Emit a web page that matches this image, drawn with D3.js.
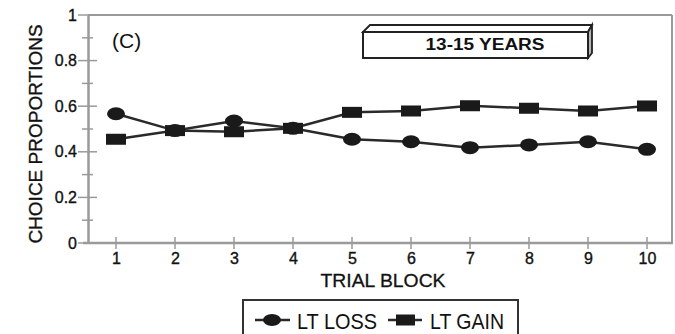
<!DOCTYPE html>
<html><head><meta charset="utf-8">
<script src="https://cdn.jsdelivr.net/npm/d3@7"></script>
<style>
html,body{margin:0;padding:0;background:#fff;}
svg{display:block;}
text{font-family:"Liberation Sans",Arial,sans-serif;fill:#111;}
</style></head>
<body>
<svg id="chart" width="675" height="334"></svg>
<script>
const trialBlocks = [1,2,3,4,5,6,7,8,9,10];
const ltLoss = [0.567,0.493,0.535,0.503,0.455,0.444,0.418,0.430,0.444,0.411];
const ltGain = [0.455,0.493,0.488,0.503,0.573,0.579,0.602,0.591,0.579,0.601];
const yMajorTicks = [0,0.2,0.4,0.6,0.8,1];
const yTickLabels = ["0","0.2","0.4","0.6","0.8","1"];
const yMinorTicks = [0.1,0.3,0.5,0.7,0.9];
const seriesNames = ["LT LOSS","LT GAIN"];
const panelLabel = "(C)";
const groupLabel = "13-15 YEARS";
const xTitle = "TRIAL BLOCK";
const yTitle = "CHOICE PROPORTIONS";

const svg = d3.select("#chart");
const x = d3.scaleLinear().domain([1,10]).range([116,647]);
const y = d3.scaleLinear().domain([0,1]).range([243,15]);
const axisCol = "#9a9a9a";
const left = 88, right = 672;

// frame top & right
svg.append("line").attr("x1",left).attr("x2",right).attr("y1",y(1)).attr("y2",y(1))
  .attr("stroke",axisCol).attr("stroke-width",2);
svg.append("line").attr("x1",right).attr("x2",right).attr("y1",y(1)).attr("y2",y(0))
  .attr("stroke",axisCol).attr("stroke-width",2);

// y axis
const yAxis = d3.axisLeft(y).tickValues(yMajorTicks)
  .tickFormat((d,i)=>yTickLabels[i]).tickSize(0).tickPadding(11);
const gy = svg.append("g").attr("transform",`translate(${left},0)`).call(yAxis);
gy.select(".domain").attr("stroke",axisCol).attr("stroke-width",2.5);
gy.selectAll("text").style("font-size","16px").attr("fill","#111")
  .attr("stroke","#111").attr("stroke-width",0.35);
svg.selectAll(".ymaj").data(yMajorTicks).enter().append("line")
  .attr("x1",78).attr("x2",97).attr("y1",d=>y(d)).attr("y2",d=>y(d))
  .attr("stroke",axisCol).attr("stroke-width",1.5);
svg.selectAll(".ymin").data(yMinorTicks).enter().append("line")
  .attr("x1",82).attr("x2",93).attr("y1",d=>y(d)).attr("y2",d=>y(d))
  .attr("stroke",axisCol).attr("stroke-width",1.5);

// x axis
const xAxis = d3.axisBottom(x).tickValues(trialBlocks).tickFormat(d3.format("d"))
  .tickSize(0).tickPadding(10);
const gx = svg.append("g").attr("transform",`translate(0,${y(0)})`).call(xAxis);
gx.select(".domain").remove();
svg.append("line").attr("x1",83).attr("x2",right+1).attr("y1",y(0)).attr("y2",y(0))
  .attr("stroke",axisCol).attr("stroke-width",2.5);
gx.selectAll("text").style("font-size","16px").attr("fill","#111")
  .attr("stroke","#111").attr("stroke-width",0.35);
svg.selectAll(".xt").data(trialBlocks).enter().append("line")
  .attr("x1",d=>x(d)).attr("x2",d=>x(d)).attr("y1",y(0)-6).attr("y2",y(0)+6)
  .attr("stroke",axisCol).attr("stroke-width",1.5);

// titles
svg.append("text").attr("transform","translate(42,134) rotate(-90)")
  .attr("text-anchor","middle").style("font-size","19px")
  .attr("stroke","#111").attr("stroke-width",0.35).text(yTitle);
svg.append("text").attr("x",383).attr("y",287).attr("text-anchor","middle")
  .style("font-size","19px").attr("stroke","#111").attr("stroke-width",0.3)
  .attr("textLength",125).attr("lengthAdjust","spacingAndGlyphs").text(xTitle);
svg.append("text").attr("x",112).attr("y",48).style("font-size","21px").text(panelLabel);

// 3D label box
const bx0=363, bx1=588, by0=32, by1=58, dx=4, dy=7;
svg.append("polygon").attr("points",`${bx0},${by0} ${bx0+dx+3},${by0-dy} ${bx1+dx},${by0-dy} ${bx1},${by0}`)
  .attr("fill","#fff").attr("stroke","#222").attr("stroke-width",1.8);
svg.append("polygon").attr("points",`${bx1},${by0} ${bx1+dx},${by0-dy} ${bx1+dx},${by1-5} ${bx1},${by1}`)
  .attr("fill","#b5b5b5").attr("stroke","#222").attr("stroke-width",1.8);
svg.append("rect").attr("x",bx0).attr("y",by0).attr("width",bx1-bx0).attr("height",by1-by0)
  .attr("fill","#fff").attr("stroke","#222").attr("stroke-width",2);
svg.append("text").attr("x",485).attr("y",50).attr("text-anchor","middle")
  .style("font-size","16px").style("font-weight","bold")
  .attr("textLength",119).attr("lengthAdjust","spacingAndGlyphs").text(groupLabel);

// lines
const line = d3.line().x((d,i)=>x(trialBlocks[i])).y(d=>y(d));
[ltLoss, ltGain].forEach(s=>{
  svg.append("path").datum(s).attr("d",line).attr("fill","none")
    .attr("stroke","#2a2a2a").attr("stroke-width",2.5);
});
svg.selectAll(".mloss").data(ltLoss).enter().append("ellipse")
  .attr("cx",(d,i)=>x(trialBlocks[i])).attr("cy",d=>y(d)).attr("rx",9).attr("ry",6.5)
  .attr("fill","#1a1a1a");
svg.selectAll(".mgain").data(ltGain).enter().append("rect")
  .attr("x",(d,i)=>x(trialBlocks[i])-10).attr("y",d=>y(d)-5.5).attr("width",20).attr("height",11)
  .attr("fill","#1a1a1a");

// legend
svg.append("rect").attr("x",243).attr("y",300).attr("width",275).attr("height",50)
  .attr("fill","#fff").attr("stroke","#333").attr("stroke-width",2);
const ly = 320;
svg.append("line").attr("x1",255).attr("x2",290).attr("y1",ly).attr("y2",ly).attr("stroke","#2a2a2a").attr("stroke-width",2.5);
svg.append("ellipse").attr("cx",272).attr("cy",ly).attr("rx",9).attr("ry",6).attr("fill","#1a1a1a");
svg.append("text").attr("x",297).attr("y",329).style("font-size","22px")
  .attr("textLength",80).attr("lengthAdjust","spacingAndGlyphs").text(seriesNames[0]);
svg.append("line").attr("x1",388).attr("x2",422).attr("y1",ly).attr("y2",ly).attr("stroke","#2a2a2a").attr("stroke-width",2.5);
svg.append("rect").attr("x",396).attr("y",ly-5.5).attr("width",19).attr("height",11).attr("fill","#1a1a1a");
svg.append("text").attr("x",430).attr("y",329).style("font-size","22px")
  .attr("textLength",74).attr("lengthAdjust","spacingAndGlyphs").text(seriesNames[1]);
</script>
</body></html>
